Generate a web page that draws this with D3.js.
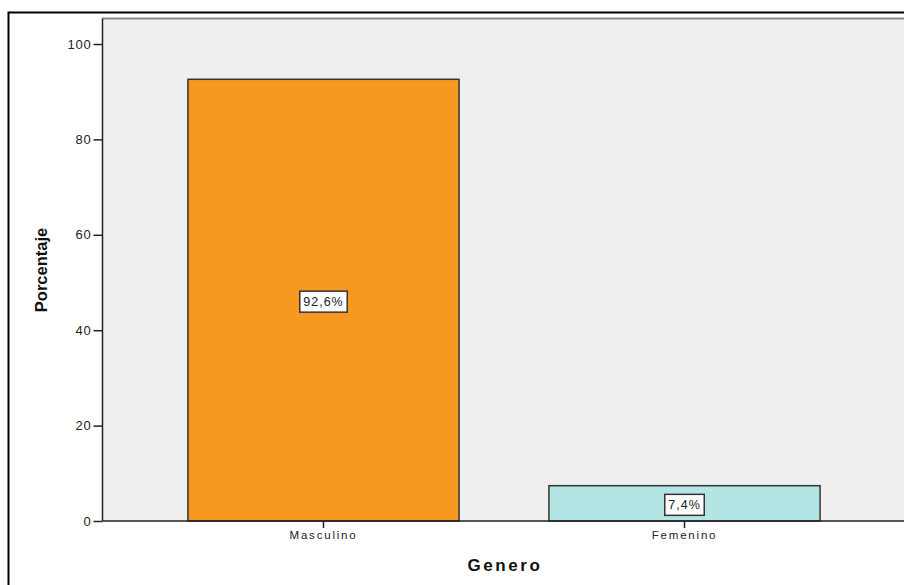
<!DOCTYPE html>
<html><head><meta charset="utf-8">
<script src="https://cdn.jsdelivr.net/npm/d3@7"></script>
<style>
html,body{margin:0;padding:0;background:#fff;}
svg{display:block;font-family:"Liberation Sans",Arial,sans-serif;}
</style></head>
<body>
<svg id="c" width="904" height="585"></svg>
<script>
const categories = ["Masculino", "Femenino"];
const values = [92.6, 7.4];
const valueLabels = ["92,6%", "7,4%"];
const colors = ["#F8991F", "#B3E5E5"];
const yTicks = [0, 20, 40, 60, 80, 100];
const xTitle = "Genero";
const yTitle = "Porcentaje";

const svg = d3.select("#c");
const pL = 102.5, pT = 18.5, pR = 920, pB = 521;

// outer frame
svg.append("rect").attr("x", 8.5).attr("y", 12.5).attr("width", 1000).attr("height", 1000)
  .attr("fill", "none").attr("stroke", "#000").attr("stroke-width", 2);

// plot background
svg.append("rect").attr("x", pL).attr("y", pT).attr("width", pR - pL).attr("height", pB - pT)
  .attr("fill", "#EFEFEF");
svg.append("line").attr("x1", pL).attr("x2", pR).attr("y1", pT).attr("y2", pT)
  .attr("stroke", "#8a8a8a").attr("stroke-width", 2);

const y = d3.scaleLinear().domain([0, 100]).range([pB, 44]);
const x = d3.scaleBand().domain(categories).range([143, 865]).paddingInner(0.249).paddingOuter(0.1245);

// bars
svg.selectAll("rect.bar").data(categories).enter().append("rect")
  .attr("class", "bar")
  .attr("x", d => x(d))
  .attr("y", (d, i) => y(values[i]))
  .attr("width", x.bandwidth())
  .attr("height", (d, i) => y(0) - y(values[i]))
  .attr("fill", (d, i) => colors[i])
  .attr("stroke", "#333").attr("stroke-width", 1.5);

// value labels
categories.forEach((d, i) => {
  const cx = x(d) + x.bandwidth() / 2;
  const cy = (y(values[i]) + y(0)) / 2 + 1.5;
  const g = svg.append("g");
  const t = g.append("text").attr("x", cx).attr("y", cy).attr("text-anchor", "middle")
    .attr("dominant-baseline", "central").attr("font-size", 12.5).attr("letter-spacing", 1)
    .attr("fill", "#222").text(valueLabels[i]);
  const bb = t.node().getBBox();
  g.insert("rect", "text").attr("x", cx - (bb.width + 7) / 2).attr("y", cy - 10.5)
    .attr("width", bb.width + 7).attr("height", 21)
    .attr("fill", "#fff").attr("stroke", "#333").attr("stroke-width", 1.5);
});

// y axis
const yAxis = d3.axisLeft(y).tickValues(yTicks).tickSize(9).tickPadding(2).tickFormat(d3.format("d"));
const ya = svg.append("g").attr("transform", `translate(${pL},0)`).call(yAxis);
ya.select(".domain").attr("stroke", "#222").attr("stroke-width", 1.5).attr("d", `M0,${pT}V${pB}`);
ya.selectAll(".tick line").attr("stroke", "#222").attr("stroke-width", 1.5);
ya.selectAll(".tick text").attr("font-size", 13).attr("letter-spacing", 0.8).attr("fill", "#222")
  .attr("font-family", "Liberation Sans, Arial, sans-serif");

// x axis
const xAxis = d3.axisBottom(x).tickSize(7).tickPadding(3);
const xa = svg.append("g").attr("transform", `translate(0,${pB})`).call(xAxis);
xa.select(".domain").attr("stroke", "#222").attr("stroke-width", 1.5).attr("d", `M${pL},0H${pR}`);
xa.selectAll(".tick line").attr("stroke", "#222").attr("stroke-width", 1.5);
xa.selectAll(".tick text").attr("font-size", 11.5).attr("letter-spacing", 1.8).attr("fill", "#222")
  .attr("font-family", "Liberation Sans, Arial, sans-serif");

// titles
svg.append("text").attr("x", 505).attr("y", 571).attr("text-anchor", "middle")
  .attr("font-size", 17).attr("font-weight", "bold").attr("letter-spacing", 2.6).attr("fill", "#111").text(xTitle);
svg.append("text").attr("transform", "translate(47,270) rotate(-90)").attr("text-anchor", "middle")
  .attr("font-size", 16.5).attr("font-weight", "bold").attr("fill", "#111").text(yTitle);
</script>
</body></html>
